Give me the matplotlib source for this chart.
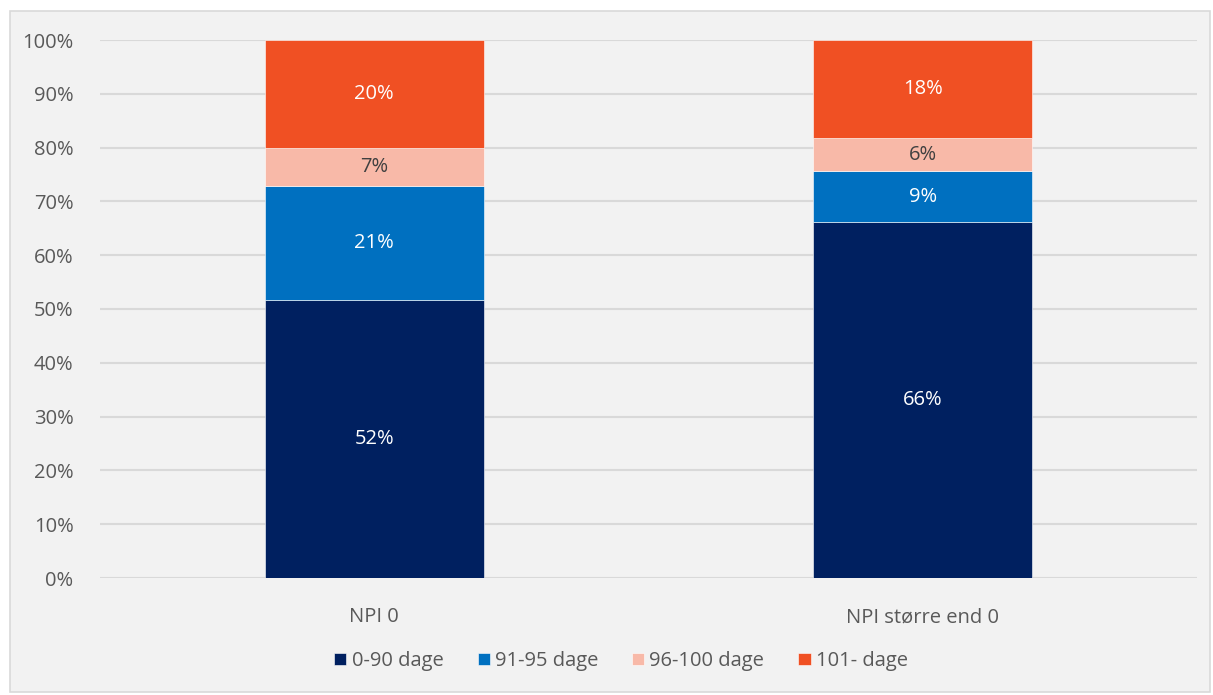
import matplotlib
matplotlib.use("Agg")
import matplotlib.pyplot as plt
from matplotlib.patches import Rectangle
import numpy as np

categories = ["NPI 0", "NPI større end 0"]
series_names = ["0-90 dage", "91-95 dage", "96-100 dage", "101- dage"]
s_0_90 = [51.7, 66.2]
s_91_95 = [21.2, 9.4]
s_96_100 = [7.0, 6.2]
s_101 = [20.1, 18.2]
labels = [["52%", "66%"], ["21%", "9%"], ["7%", "6%"], ["20%", "18%"]]
colors = ["#002060", "#0070C0", "#F8B9A8", "#F05023"]
label_colors = ["white", "white", "#404040", "white"]
yticks = [0, 10, 20, 30, 40, 50, 60, 70, 80, 90, 100]

plt.rcParams['font.family'] = ['Open Sans', 'DejaVu Sans']
FS = 14.5

W, H = 1213, 695
fig = plt.figure(figsize=(W / 100, H / 100), dpi=100)
fig.patch.set_facecolor("white")
fig.add_artist(Rectangle((10 / W, 1 - 692 / H), 1200 / W, 681 / H, transform=fig.transFigure,
                         facecolor="#F2F2F2", edgecolor="#D9D9D9", linewidth=1.2, zorder=0))

ax = fig.add_axes([100 / W, 1 - 578 / H, 1097 / W, 538 / H])
ax.set_facecolor("none")
x = np.arange(len(categories))
data = [s_0_90, s_91_95, s_96_100, s_101]
bottom = np.zeros(len(categories))
for i, (vals, name) in enumerate(zip(data, series_names)):
    vals = np.array(vals)
    ax.bar(x, vals, 0.4, bottom=bottom, color=colors[i], label=name,
           edgecolor="white", linewidth=0.4, zorder=3)
    for j in range(len(categories)):
        ax.text(x[j], bottom[j] + vals[j] / 2, labels[i][j], ha="center", va="center",
                color=label_colors[i], fontsize=FS, zorder=4)
    bottom += vals

ax.set_xlim(-0.5, 1.5)
ax.set_ylim(0, 100)
ax.set_yticks(yticks)
ax.set_yticklabels([f"{v}%" for v in yticks])
ax.set_xticks(x)
ax.set_xticklabels(categories)
ax.yaxis.grid(True, color="#D9D9D9", linewidth=1.5, zorder=0)
ax.set_axisbelow(True)
for s in ax.spines.values():
    s.set_visible(False)
ax.tick_params(axis="both", length=0, colors="#595959", labelsize=FS)
ax.tick_params(axis="y", pad=19)
ax.tick_params(axis="x", pad=21)

leg = fig.legend(loc="center", bbox_to_anchor=(621 / W, 1 - 661 / H), ncol=4, frameon=False,
                 fontsize=FS, handlelength=0.6, handleheight=0.6, handletextpad=0.25,
                 columnspacing=1.7, labelcolor="#595959")

fig.savefig("out.png", dpi=100)
